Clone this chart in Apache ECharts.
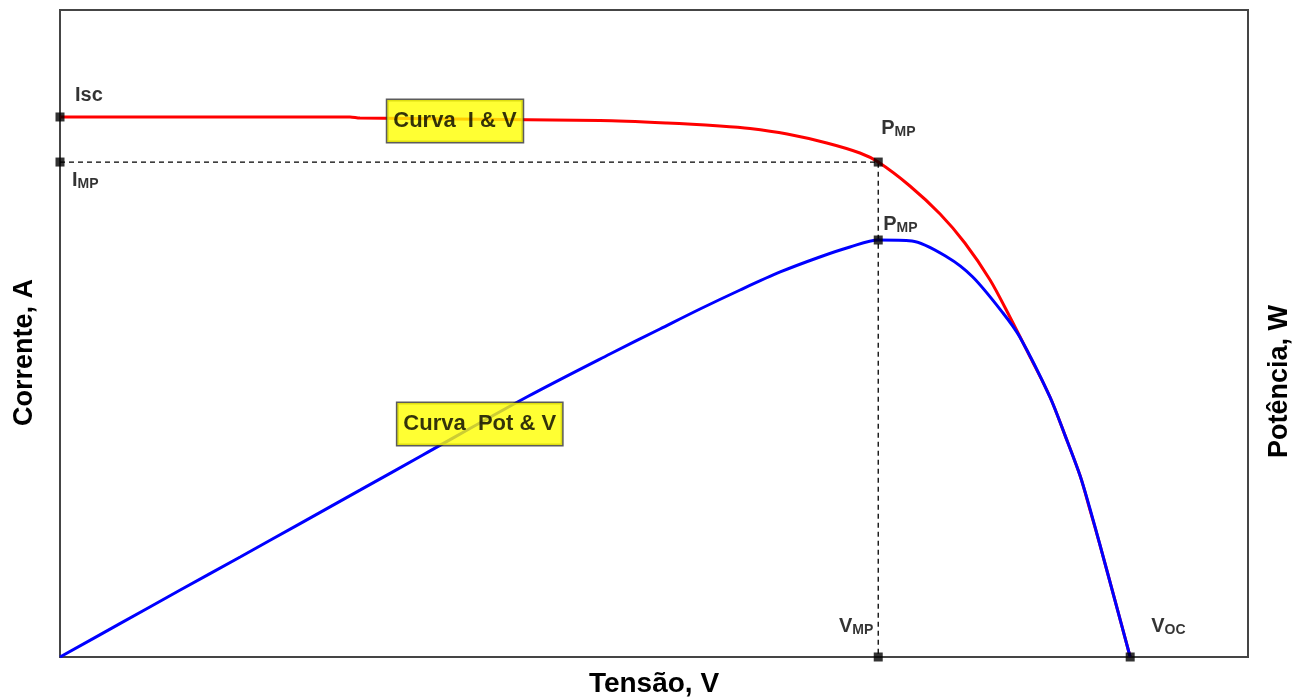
<!DOCTYPE html>
<html>
<head>
<meta charset="utf-8">
<script src="https://cdn.jsdelivr.net/npm/echarts@6/dist/echarts.min.js"></script>
<style>html,body{margin:0;padding:0;background:#fff}#c{width:1306px;height:698px}</style>
</head>
<body>
<div id="c"></div>
<script>
// I-V curve (Tensão V, Corrente A)
const voltageIV = [0, 5.86, 6.06, 10.91, 12.26, 13.33, 13.94, 14.69, 15.49, 16.16, 16.53, 17.17, 17.78, 18.28, 18.79, 19.19, 19.60, 20.00, 20.30, 20.61, 20.81, 21.01, 21.31, 21.62];
const currentIV = [5.008, 5.008, 4.998, 4.975, 4.952, 4.924, 4.901, 4.850, 4.767, 4.674, 4.590, 4.368, 4.108, 3.839, 3.496, 3.153, 2.782, 2.411, 2.060, 1.678, 1.360, 1.038, 0.529, 0];
// P-V curve (Tensão V, Potência W)
const voltagePV = [0, 1.21, 2.42, 3.64, 4.85, 6.06, 7.33, 9.43, 11.11, 12.12, 12.93, 13.74, 14.55, 15.35, 15.96, 16.53, 17.21, 17.92, 18.44, 19.05, 19.39, 20.00, 20.30, 20.61, 20.81, 21.01, 21.31, 21.62];
const powerPV = [0, 6.19, 12.37, 18.55, 24.74, 30.94, 37.47, 48.22, 56.20, 60.83, 64.54, 68.07, 71.41, 74.19, 76.04, 77.34, 77.16, 74.19, 70.48, 63.80, 59.35, 48.22, 41.20, 33.57, 27.40, 20.77, 10.57, 0];
// key points
const Isc = 5.008, Imp = 4.59, Vmp = 16.53, Voc = 21.62, Pmp = 77.34;
// axis ranges
const vMax = 24, iMax = 6, pMax = 120;
// curve name boxes: [text, V, value]
const curveLabelIV = ['Curva  I & V', 7.98, 4.97];
const curveLabelPV = ['Curva  Pot & V', 8.48, 43.2];
// axis titles
const xTitle = 'Tensão, V', yTitle = 'Corrente, A', y2Title = 'Potência, W';

const FF = '"Liberation Sans", Arial, sans-serif';
const rich = {
  m: {fontSize: 20, fontWeight: 'bold', fontFamily: FF, color: '#000'},
  s: {fontSize: 14, fontWeight: 'bold', fontFamily: FF, color: '#000', padding: [9, 0, 0, 0]}
};
function mk(v, y, text, align, offset) {
  return {value: [v, y], label: {show: true, position: 'inside', align: align, verticalAlign: 'middle', offset: offset, formatter: text, rich: rich}};
}
const boxLabel = {
  show: true, position: 'inside', color: '#000', fontFamily: FF, fontWeight: 'bold', fontSize: 22,
  backgroundColor: '#ffff00', borderColor: '#333', borderWidth: 1.5, padding: [10, 6, 10, 6]
};

const chart = echarts.init(document.getElementById('c'), null, {renderer: 'canvas'});
chart.setOption({
  animation: false,
  backgroundColor: '#fff',
  grid: {left: 60, right: 58, top: 10, bottom: 41, show: true, borderColor: '#454545', borderWidth: 2, backgroundColor: '#fff',
    containLabel: false, outerBoundsMode: 'none'},
  xAxis: {type: 'value', min: 0, max: vMax, axisLine: {show: false}, axisTick: {show: false}, axisLabel: {show: false}, splitLine: {show: false},
    name: xTitle, nameLocation: 'middle', nameGap: 13,
    nameTextStyle: {fontFamily: FF, fontWeight: 'bold', fontSize: 28, color: '#000', verticalAlign: 'top'}},
  yAxis: [
    {type: 'value', min: 0, max: iMax, axisLine: {show: false}, axisTick: {show: false}, axisLabel: {show: false}, splitLine: {show: false},
      name: yTitle, nameLocation: 'middle', nameRotate: 90, nameGap: 22,
      nameTextStyle: {fontFamily: FF, fontWeight: 'bold', fontSize: 27, color: '#000', padding: [0, 38, 0, 0]}},
    {type: 'value', min: 0, max: pMax, position: 'right', axisLine: {show: false}, axisTick: {show: false}, axisLabel: {show: false}, splitLine: {show: false},
      name: y2Title, nameLocation: 'middle', nameRotate: 90, nameGap: 18,
      nameTextStyle: {fontFamily: FF, fontWeight: 'bold', fontSize: 27, color: '#000', padding: [0, 96, 0, 0]}}
  ],
  series: [
    {type: 'line', name: 'dash', yAxisIndex: 0, symbol: 'none', silent: true, z: 2,
      lineStyle: {color: '#000', width: 1.3, type: [5, 4]},
      data: [[0, Imp], [Vmp, Imp], [Vmp, 0]]},
    {type: 'line', name: 'I-V', yAxisIndex: 0, symbol: 'none', smooth: 0.3, z: 3,
      lineStyle: {color: '#ff0000', width: 3},
      data: voltageIV.map((v, i) => [v, currentIV[i]])},
    {type: 'line', name: 'P-V', yAxisIndex: 1, symbol: 'none', smooth: 0.3, z: 4,
      lineStyle: {color: '#0000ff', width: 3},
      data: voltagePV.map((v, i) => [v, powerPV[i]])},
    {type: 'scatter', yAxisIndex: 0, symbol: 'rect', symbolSize: 9, clip: false, z: 6,
      itemStyle: {color: '#000'},
      data: [
        mk(0, Isc, '{m|Isc}', 'left', [15, -21]),
        mk(0, Imp, '{m|I}{s|MP}', 'left', [12, 18]),
        mk(Vmp, Imp, '{m|P}{s|MP}', 'left', [3, -34]),
        mk(Vmp, 0, '{m|V}{s|MP}', 'right', [-5, -31]),
        mk(Voc, 0, '{m|V}{s|OC}', 'left', [21, -31])
      ]},
    {type: 'scatter', yAxisIndex: 1, symbol: 'rect', symbolSize: 9, clip: false, z: 6,
      itemStyle: {color: '#000'},
      data: [mk(Vmp, Pmp, '{m|P}{s|MP}', 'left', [5, -16])]},
    {type: 'scatter', yAxisIndex: 0, symbolSize: 0, clip: false, z: 8, silent: true,
      label: boxLabel, data: [{value: [curveLabelIV[1], curveLabelIV[2]], label: {formatter: curveLabelIV[0]}}]},
    {type: 'scatter', yAxisIndex: 1, symbolSize: 0, clip: false, z: 8, silent: true,
      label: boxLabel, data: [{value: [curveLabelPV[1], curveLabelPV[2]], label: {formatter: curveLabelPV[0]}}]}
  ]
});
</script>
</body>
</html>
